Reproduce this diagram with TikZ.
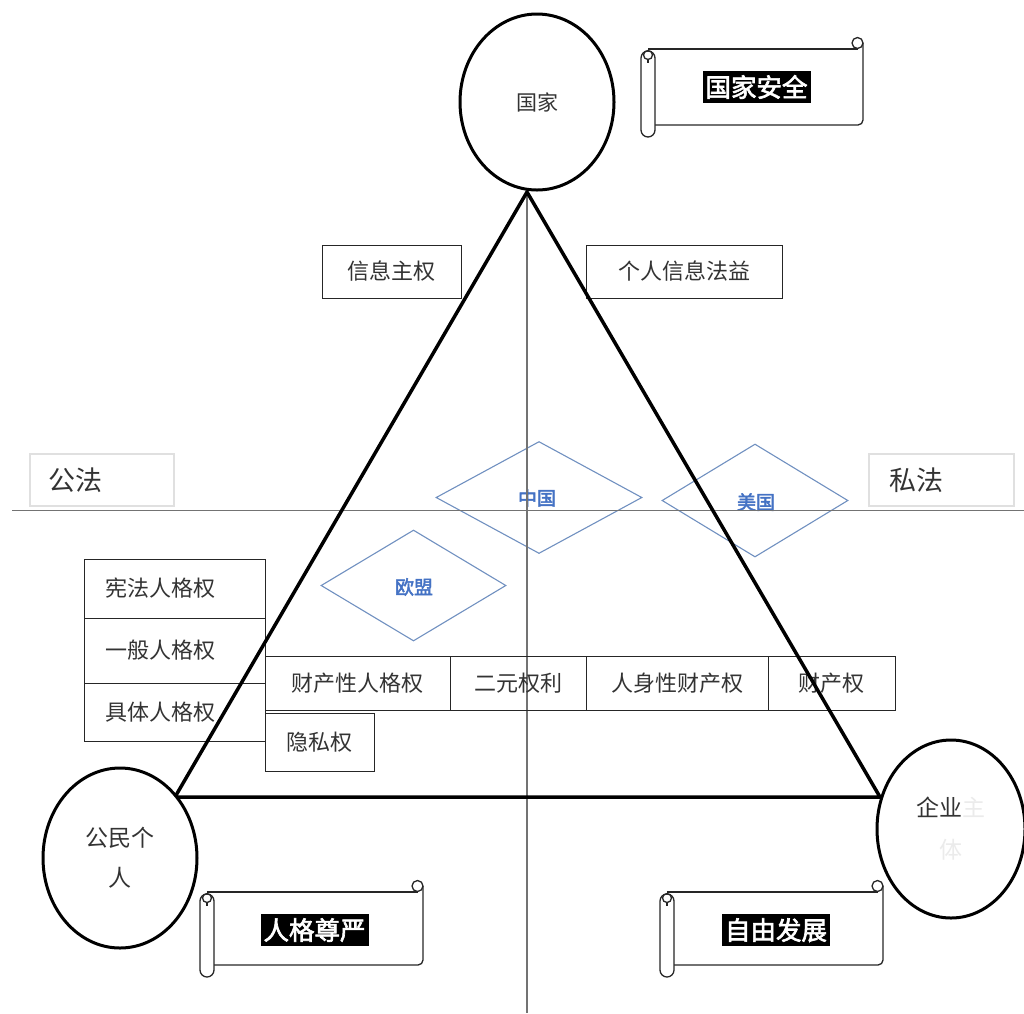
\documentclass[tikz,border=0pt]{standalone}
\usepackage{fontspec}
\setmainfont{Noto Sans CJK SC}
\newfontfamily\cjkbold[FakeBold=2.5]{Noto Sans CJK SC}
\usetikzlibrary{shapes.geometric}
\definecolor{dia}{HTML}{7090C0}
\definecolor{dialabel}{HTML}{4472C4}
\definecolor{txt}{HTML}{333333}
\tikzset{
  cbox/.style={draw=black!85, line width=1pt, inner sep=0pt, text=txt, font=\fontsize{22}{22}\selectfont},
  lbox/.style={cbox, align=left, inner xsep=21pt},
  lawbox/.style={draw=black!12, line width=1.2pt, inner sep=0pt, text=txt, align=left, font=\fontsize{27}{27}\selectfont},
  party/.style={draw=black, ellipse, line width=3pt, fill=white, inner sep=0pt, text=txt, align=center, font=\fontsize{21}{40}\selectfont},
  region/.style={draw=dia, diamond, line width=1.1pt, inner sep=0pt},
  rlabel/.style={text=dialabel, inner sep=0pt, font=\cjkbold\fontsize{19}{19}\selectfont},
  tri/.style={draw=black, line width=3.5pt, line join=round},
  axis/.style={draw=black!55, line width=1.6pt},
  scrl/.style={draw=black!85, line width=1.3pt},
  banner/.style={fill=black, text=white, inner xsep=3pt, inner ysep=4pt, font=\cjkbold\fontsize{25.5}{25.5}\selectfont}
}
\newcommand\myscroll[4]{%
  \pgfmathsetmacro\sL{#1}\pgfmathsetmacro\sT{#2}%
  \pgfmathsetmacro\sR{#3}\pgfmathsetmacro\sB{#4}%
  \pgfmathsetmacro\bt{\sT+12}\pgfmathsetmacro\bb{\sB-12}%
  % body
  \draw[scrl, rounded corners=5pt] (\sL+7,\bt) -- (\sR-5.5,\bt);
  \draw[scrl, rounded corners=5pt] (\sR,\sT+6) -- (\sR,\bb) -- (\sL+14,\bb);
  \draw[scrl] (\sR-5.5,\bt) -- (\sR-5.5,\sT+8);
  \draw[scrl, fill=white] (\sR-5.5,\sT+6) circle[radius=5.5];
  \draw[scrl] (\sR-5.5,\sT+11.5) -- (\sR-5.5,\bt);
  % left roll
  \draw[scrl, fill=white, rounded corners=7pt] (\sL,\sT+14) rectangle (\sL+14,\sB);
  \draw[scrl] (\sL+7,\sT+18) circle[radius=4.5];
  \draw[scrl] (\sL+7,\sT+22.5) -- (\sL+7,\sT+26);
}
\begin{document}
\begin{tikzpicture}[x=1pt,y=-1pt]
\useasboundingbox (0,0) rectangle (1024,1013);

% law boxes
\node[lawbox, minimum width=144pt, minimum height=52pt, text width=108pt, inner xsep=18pt] (gongfa) at (102,480) {公法};
\node[lawbox, minimum width=145pt, minimum height=52pt, text width=105pt, inner xsep=20pt] (sifa) at (941.5,480) {私法};

% diamonds
\node[region, minimum width=206pt, minimum height=112pt] (cn) at (539,497.5) {};
\node[region, minimum width=186pt, minimum height=113pt] (us) at (755,500.5) {};
\node[region, minimum width=185pt, minimum height=111pt] (eu) at (413.5,585.5) {};
\node[rlabel] (cnl) at (537,498) {中国};
\node[rlabel] (usl) at (756,502) {美国};
\node[rlabel] (eul) at (414,587) {欧盟};

% axes
\coordinate (vtop) at (527,190);
\coordinate (vbot) at (527,1013);
\coordinate (hl) at (12,510.5);
\coordinate (hr) at (1024,510.5);
\draw[axis] (vtop) -- (vbot);
\draw[axis] (hl) -- (hr);

% boxes
\node[cbox, minimum width=139pt, minimum height=53pt] (xxzq) at (391.5,271.5) {信息主权};
\node[cbox, minimum width=196pt, minimum height=53pt] (grxx) at (684,271.5) {个人信息法益};

\node[lbox, text width=139pt, minimum height=59pt] (xf) at (174.5,588.5) {宪法人格权};
\node[lbox, text width=139pt, minimum height=65pt] (yb) at (174.5,650.5) {一般人格权};
\node[lbox, text width=139pt, minimum height=58pt] (jt) at (174.5,712) {具体人格权};

\node[cbox, minimum width=185pt, minimum height=54pt] (ccx) at (357.5,683) {财产性人格权};
\node[cbox, minimum width=136pt, minimum height=54pt] (ey) at (518,683) {二元权利};
\node[cbox, minimum width=182pt, minimum height=54pt] (rsx) at (677,683) {人身性财产权};
\node[cbox, minimum width=127pt, minimum height=54pt] (cc) at (831.5,683) {财产权};
\node[cbox, minimum width=109pt, minimum height=58pt] (ys) at (319.5,742) {隐私权};

% triangle
\coordinate (apex) at (527,192);
\coordinate (bl) at (175,797);
\coordinate (br) at (880,797);
\draw[tri] (apex) -- (bl) -- (br) -- cycle;

% parties
\node[party, minimum width=154pt, minimum height=176pt] (gj) at (537,102) {国家};
\node[party, minimum width=154pt, minimum height=180pt, font=\fontsize{23}{40}\selectfont] (gm) at (120,858) {公民个\\人};
\node[party, minimum width=148pt, minimum height=178pt, font=\fontsize{23}{42}\selectfont] (qy) at (951,829) {企业\textcolor{black!8}{主}\\\textcolor{black!8}{体}};

% scrolls
\myscroll{641}{37}{863}{137}
\myscroll{200}{880}{423}{977}
\myscroll{660}{880}{883}{977}
\node[banner] (aq) at (756.5,87) {国家安全};
\node[banner] (zy) at (314.5,930) {人格尊严};
\node[banner] (fz) at (776,930) {自由发展};
\end{tikzpicture}
\end{document}
